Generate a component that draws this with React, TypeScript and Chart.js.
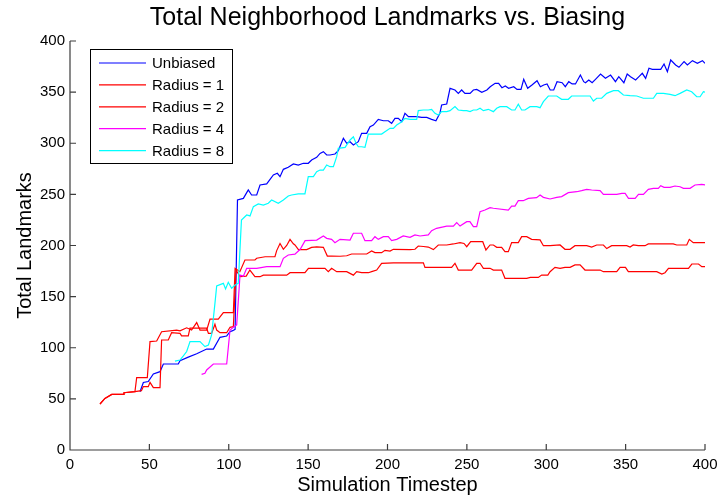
import React, { useEffect, useRef } from "react";
import { Chart, registerables } from "chart.js";

Chart.register(...registerables);

const FONT = '"Liberation Sans", Arial, Helvetica, sans-serif';

const chartTitle = "Total Neighborhood Landmarks vs. Biasing";
const xAxisTitle = "Simulation Timestep";
const yAxisTitle = "Total Landmarks";
const xTickValues = [0, 50, 100, 150, 200, 250, 300, 350, 400];
const yTickValues = [0, 50, 100, 150, 200, 250, 300, 350, 400];
const seriesLabels = ["Unbiased", "Radius = 1", "Radius = 2", "Radius = 4", "Radius = 8"];
const seriesColors = ["#0000ff", "#ff0000", "#ff0000", "#ff00ff", "#00ffff"];

const unbiased: [number, number][] = [
  [44.1, 57], [46.2, 66], [49.3, 67], [52.5, 74.3], [56.7, 76.6], [58.8, 84.1], [68.2, 84.1], [69.3, 87.3],
  [74.5, 90.8], [79.8, 94.1], [86.1, 98.7], [90.3, 98.7], [94.5, 110.2], [98.7, 111.5], [100.8, 115.7],
  [102.5, 116.7], [104, 118], [105.5, 244.5], [109.2, 246.1], [112.3, 254.3], [114.4, 249.4], [117.6, 249.4],
  [119.7, 259.2], [123.9, 260.2], [128.1, 269], [130.6, 270.6], [132.3, 267.3], [134.4, 274.5], [137.5, 276.5],
  [140.7, 279.8], [143.8, 278.7], [147, 280.4], [150.1, 280.4], [152.2, 283.6], [155.4, 286.2], [157.5, 290.1],
  [159.6, 291.8], [161.7, 288.5], [163.8, 288.5], [166.9, 289.5], [169, 292.8], [172.2, 304.8], [174.3, 299.9],
  [176.4, 301.5], [178.5, 298.3], [181.6, 301.5], [183.7, 309.7], [186.9, 309.7], [189, 316.2], [191.1, 317.8],
  [194.2, 323.4], [197.4, 322], [200.5, 322], [202.6, 319.5], [204.7, 324.4], [206.8, 324.4], [209, 321],
  [211, 329.2], [213.2, 326], [218.4, 326], [221.5, 325.3], [224.7, 325.3], [227.8, 323.4], [230.5, 322],
  [233, 329.2], [234.1, 337.4], [237.3, 338.4], [239.4, 353.7], [242.5, 352.1], [244.6, 348.8], [246.7, 352.1],
  [248.8, 348.8], [252, 348.8], [254.1, 352.1], [256.2, 352.7], [259.4, 349.8], [262.6, 352.1], [264.7, 355.3],
  [267.8, 358.6], [270, 358.6], [272.1, 354.3], [274.2, 356], [276.3, 353.7], [279.5, 355.3], [281.6, 352.7],
  [284.1, 352.7], [285.8, 362.5], [288.3, 353.7], [291, 357], [294.2, 361.2], [296.3, 355.3], [298.4, 357],
  [300.5, 358], [302.5, 352.1], [304.7, 352.1], [306.8, 360.2], [310, 359.2], [312, 355.3], [314.2, 360.2],
  [316.3, 358], [318.4, 358], [321.5, 366.7], [323.6, 360.2], [324.7, 359.2], [326.8, 361.9], [328.9, 359.2],
  [331, 362.5], [334.2, 367.7], [337.3, 363.5], [340.5, 366.7], [343.6, 360.2], [345.7, 365.1], [348.9, 359.2],
  [351, 367.7], [353.1, 365.1], [356.3, 361.9], [358.4, 365.1], [360.5, 368.4], [362.6, 363.5], [364.7, 373.3],
  [366.8, 372.3], [369, 372.3], [372.1, 372.3], [374.2, 377.5], [376.3, 370], [378.4, 381.4], [381.5, 376.5],
  [383.6, 374.3], [386.8, 379.8], [388.9, 376.5], [392.1, 380.8], [395.2, 378.2], [398.4, 380.8], [400, 378.2],
];

const radius1: [number, number][] = [
  [18.9, 45], [22, 50.5], [26.3, 54.4], [33.6, 54.4], [34, 56], [40.9, 57], [42, 70.7], [48.7, 70.7],
  [50.4, 106], [54.6, 106.6], [57.7, 115.7], [67.2, 117.3], [69.3, 116.5], [73.5, 119.5], [76.6, 117.3],
  [79.8, 124.6], [81.9, 117.3], [86.1, 117.3], [88.2, 128], [93.4, 128], [96.6, 134.3], [102.9, 134.3],
  [104, 177.7], [107, 174.4], [110.2, 185.8], [116.5, 185.8], [117.6, 187.5], [122.9, 189], [129.1, 189],
  [130.2, 195], [132.3, 202], [134.4, 196.3], [136.5, 200], [138.6, 206], [140.7, 201.7], [141.7, 200.5],
  [143.9, 196], [149.1, 196], [152.2, 198.2], [155.4, 198.7], [159.6, 198.2], [162.1, 189.7], [164.8, 189.7],
  [170.1, 189.5], [174.3, 190], [177.4, 191.7], [186.9, 191.7], [190, 194.6], [192.1, 193], [196.3, 193],
  [198.4, 195.3], [201.6, 194.5], [203.7, 196.3], [214.2, 196], [217.3, 196.3], [219.4, 199.5], [222.6, 199],
  [225.7, 198.5], [228.9, 196], [232, 200.5], [237.3, 200.5], [241.5, 201.5], [245.7, 202.8], [248.2, 202],
  [249.9, 198.8], [252.4, 203.7], [260, 203.7], [262, 195.6], [264.6, 200.5], [266.7, 200.5], [268.8, 198.2],
  [271.9, 198.2], [274, 194], [276.1, 194], [278.2, 202.8], [282.4, 202.8], [284.5, 208.6], [287.7, 208.6],
  [290.8, 206], [296.1, 205.5], [298.2, 199.8], [302.4, 199.8], [308.7, 200.5], [311.8, 196.3], [315, 196.3],
  [318.1, 199.8], [325.5, 199.8], [328.6, 198.5], [331.8, 200.5], [336, 200.5], [338.1, 197], [341.2, 199.8],
  [350.7, 199.8], [352.8, 198.5], [354.8, 200.5], [358, 199.8], [362.2, 199.8], [364.3, 201.5], [380, 201.5],
  [382.2, 200.5], [388.5, 200.5], [390.1, 206], [392.6, 202.8], [400, 202.8],
];

const radius2: [number, number][] = [
  [18.9, 45], [22, 50.5], [26.3, 54.4], [33.6, 54.4], [34, 56], [40.9, 57], [45, 58], [46.2, 62], [49.3, 62],
  [50.4, 66.2], [52.5, 61], [56.7, 61], [57.7, 107.6], [61.9, 107.6], [64, 114.7], [69.3, 114.1], [70.3, 111.6],
  [74.5, 111.6], [75.6, 119.1], [86.1, 119.1], [87.2, 114.1], [89.2, 114.1], [91.3, 123], [92.4, 117.3],
  [94.5, 114.7], [98.7, 114.7], [100.8, 120], [102.9, 120.7], [104.6, 176], [107.1, 169.5], [111, 170],
  [113.3, 176], [116.5, 169.5], [119.7, 169.5], [121.8, 171], [136.5, 171], [138.6, 173.4], [148, 173.4],
  [150.2, 177.7], [160.6, 177.7], [162.7, 174.4], [164.8, 177.7], [168, 174.4], [174.3, 174.4], [178.5, 171],
  [180.6, 174.4], [183.7, 173.4], [188, 173.4], [190, 174.4], [193.2, 176], [196.3, 182.6], [203.7, 183],
  [222.6, 183], [223.6, 178.6], [240.4, 178.6], [242.5, 182.6], [244.6, 176], [253, 176], [256.2, 182.6],
  [258.3, 182.6], [260.4, 177.7], [264.6, 177.7], [266.7, 176], [271.9, 176], [274, 167.9], [287.7, 167.9],
  [290, 168.8], [295, 168.8], [297.1, 171.1], [301, 171.1], [302.4, 174.4], [305.5, 178.6], [308.7, 177.7],
  [311.8, 178.6], [315, 178.6], [318.1, 181], [321.3, 181], [324.4, 176], [333.9, 176], [336, 174.4],
  [344.4, 174.4], [346.5, 178.6], [349.9, 178.6], [351.7, 174.4], [369.6, 174.4], [372.8, 172.1],
  [374.8, 173.4], [377, 177.7], [389.6, 177.7], [391.7, 181.9], [395.9, 181.9], [398, 179.3], [400, 179.3],
];

const radius4: [number, number][] = [
  [82.9, 74], [85, 75], [86.1, 78.3], [90.3, 84.1], [98.7, 84.1], [100.8, 117.3], [102.9, 120], [105, 122.3],
  [107.1, 171.1], [109.2, 170], [111.3, 177.7], [117.6, 177.7], [123.9, 179.3], [132.3, 179.3], [134.4, 187.5],
  [137.5, 190.7], [141.7, 191.5], [145, 196.3], [148.1, 204.7], [152.2, 205], [155.4, 205.3], [159.6, 209.3],
  [161.7, 207], [164.8, 206], [166.9, 202.8], [170.1, 206], [176.4, 205.3], [178.5, 212], [183.7, 212],
  [185.8, 204.7], [190, 204.7], [192.1, 208.6], [194.2, 206], [197.4, 208.6], [200.5, 208.6], [202.6, 204.7],
  [205.8, 206], [209.9, 209.3], [214.2, 208], [217.3, 210.3], [220.5, 209.3], [225.7, 210.3], [227.8, 214.5],
  [230.9, 216.8], [237.3, 219], [241.5, 219], [243.6, 222.3], [245.7, 219], [249.9, 223.3], [251.9, 223.3],
  [254.1, 218.4], [256.2, 218.4], [258.3, 233.1], [261.4, 234.7], [264.6, 237], [266.7, 236.4], [276.1, 234.7],
  [278.2, 238.6], [280.3, 238.6], [282.4, 243.8], [285.5, 243.8], [288.7, 246.1], [293.9, 246.8], [296.1, 249.4],
  [298.2, 247.1], [302.4, 245.5], [306.6, 247.1], [309.7, 247.8], [313.9, 251.7], [319.2, 252.6], [322.3, 253.6],
  [325.5, 254.9], [328.6, 254.3], [333.9, 253.6], [336, 250], [344.4, 250], [347.6, 251], [349.7, 251],
  [351.8, 246.1], [356, 246.1], [358.1, 250], [361.2, 250], [364.3, 254.9], [367.5, 255.9], [370.6, 255.9],
  [372.1, 258.5], [374.2, 256.9], [378, 256.9], [381.1, 258.2], [384.3, 257.5], [386.4, 255.9], [390.6, 255.9],
  [393.7, 259.2], [397.9, 259.8], [400, 259.2],
];

const radius8: [number, number][] = [
  [66.1, 87], [69.3, 88], [71.4, 92], [73.5, 96.3], [75.6, 106], [81.9, 106], [85, 101.1], [87.2, 102.7],
  [89.2, 112.5], [91.3, 143.4], [92.4, 160.4], [96.6, 163], [98, 157.5], [99.7, 164], [101.8, 158.2],
  [104, 161.4], [106, 163], [108, 225], [111.3, 229.8], [113.4, 228.9], [115.5, 238], [118.6, 240.6],
  [121.8, 239.6], [124.9, 241.3], [127, 244.5], [131.2, 241.3], [134.4, 244.5], [137.5, 248.4], [139.6, 249.4],
  [143.8, 250.4], [148, 250.4], [150.1, 267.3], [153.3, 267.3], [155.4, 272.2], [157.5, 273.8], [159.6, 273.8],
  [161.7, 278.7], [163.8, 277.1], [165.9, 277.1], [168, 286.9], [169, 295], [173.3, 296], [176.4, 303.2],
  [178.5, 306.4], [180.2, 300], [181.6, 296.6], [183.7, 296.6], [185.8, 296], [187.9, 309], [196.3, 309],
  [198.4, 311.3], [201.6, 314.6], [203.7, 314.6], [205.8, 317.8], [209, 321], [211, 324.4], [214.2, 323.4],
  [218.4, 323.4], [219.4, 331.9], [222.6, 332.5], [225.7, 332.5], [227.8, 333.2], [229.9, 329.2], [232, 327.6],
  [234.1, 330.9], [237.3, 330.9], [239.4, 331.9], [242.5, 335.8], [244.6, 332.5], [247.8, 331.9], [249.9, 331.9],
  [252, 330.9], [254.1, 332.5], [256.2, 332.5], [258.3, 334.2], [260.4, 331.9], [263.5, 333.2], [266.7, 330.9],
  [268.8, 334.2], [270.9, 335.8], [275.1, 335.8], [278.2, 332.5], [280.3, 332.5], [282.4, 338.1], [284.5, 332.5],
  [286.6, 332.5], [289.8, 335.8], [294, 335.8], [296.1, 334.8], [298.2, 340.7], [301.3, 346.2], [306.6, 346.2],
  [309.7, 343], [313.9, 343], [316, 346.2], [327.6, 346.2], [329.7, 341.3], [331.8, 344], [334.9, 344],
  [338.1, 348.8], [342.3, 351.4], [345.4, 351.4], [348.6, 347.2], [352.8, 346.5], [357, 346.2], [361.2, 344],
  [367.5, 344], [369.6, 348.8], [373.8, 348.8], [378, 347.8], [381.1, 346.5], [384.3, 348.8], [388.5, 352.1],
  [391.6, 350.4], [394.8, 345.5], [396.9, 345.5], [399, 350.4], [400, 350],
];

const allSeries = [unbiased, radius1, radius2, radius4, radius8];

const overlayPlugin = {
  id: "matlabOverlay",
  afterDraw(chart: any) {
    const { ctx, chartArea: a, scales } = chart;
    const xs = scales.x;
    const ys = scales.y;
    ctx.save();
    // axes lines and inward ticks
    ctx.strokeStyle = "#3c3c3c";
    ctx.lineWidth = 1.2;
    ctx.beginPath();
    ctx.moveTo(a.left, a.top);
    ctx.lineTo(a.left, a.bottom);
    ctx.lineTo(a.right, a.bottom);
    xTickValues.forEach((v) => {
      const px = xs.getPixelForValue(v);
      ctx.moveTo(px, a.bottom);
      ctx.lineTo(px, a.bottom - 6);
    });
    yTickValues.forEach((v) => {
      const py = ys.getPixelForValue(v);
      ctx.moveTo(a.left, py);
      ctx.lineTo(a.left + 6, py);
    });
    ctx.stroke();

    // title
    ctx.fillStyle = "#000";
    ctx.font = `25px ${FONT}`;
    ctx.textAlign = "center";
    ctx.textBaseline = "middle";
    ctx.fillText(chartTitle, (a.left + a.right) / 2, 18);

    // legend
    const bx = a.left + 20;
    const by = a.top + 8;
    const bw = 142;
    const bh = 114;
    ctx.fillStyle = "#fff";
    ctx.fillRect(bx, by, bw, bh);
    ctx.strokeStyle = "#000";
    ctx.lineWidth = 1;
    ctx.strokeRect(bx + 0.5, by + 0.5, bw, bh);
    ctx.font = `15px ${FONT}`;
    ctx.textAlign = "left";
    chart.data.datasets.forEach((ds: any, i: number) => {
      const ry = by + 14 + i * 21.9;
      ctx.strokeStyle = ds.borderColor;
      ctx.lineWidth = 1.2;
      ctx.beginPath();
      ctx.moveTo(bx + 9, ry);
      ctx.lineTo(bx + 56, ry);
      ctx.stroke();
      ctx.fillStyle = "#000";
      ctx.fillText(ds.label, bx + 62, ry + 1);
    });
    ctx.restore();
  },
};

export default function App() {
  const ref = useRef<HTMLCanvasElement | null>(null);
  useEffect(() => {
    if (!ref.current) return;
    const chart = new Chart(ref.current, {
      type: "line",
      data: {
        datasets: allSeries.map((pts, i) => ({
          label: seriesLabels[i],
          data: pts.map(([x, y]) => ({ x, y })),
          borderColor: seriesColors[i],
          backgroundColor: seriesColors[i],
          borderWidth: 1.2,
          pointRadius: 0,
          fill: false,
          tension: 0,
          order: allSeries.length - 1 - i,
        })),
      },
      options: {
        animation: false,
        responsive: false,
        maintainAspectRatio: false,
        layout: { padding: { top: 41, right: 14, left: 0, bottom: 0 } },
        plugins: {
          legend: { display: false },
          title: { display: false },
          tooltip: { enabled: false },
        },
        scales: {
          x: {
            type: "linear",
            min: 0,
            max: 400,
            afterFit: (s: any) => {
              s.height = 47;
              s.paddingLeft = 0;
              s.paddingRight = 0;
            },
            afterBuildTicks: (s: any) => {
              s.ticks = xTickValues.map((v) => ({ value: v }));
            },
            grid: { display: false, drawTicks: false },
            border: { display: false },
            ticks: {
              color: "#000",
              font: { family: FONT, size: 15 },
              padding: 6,
              maxRotation: 0,
            },
            title: {
              display: true,
              text: xAxisTitle,
              color: "#000",
              font: { family: FONT, size: 20 },
              padding: { top: 0, bottom: 0 },
            },
          },
          y: {
            type: "linear",
            min: 0,
            max: 400,
            afterFit: (s: any) => {
              s.width = 70;
              s.paddingTop = 0;
              s.paddingBottom = 0;
            },
            afterBuildTicks: (s: any) => {
              s.ticks = yTickValues.map((v) => ({ value: v }));
            },
            grid: { display: false, drawTicks: false },
            border: { display: false },
            ticks: {
              color: "#000",
              font: { family: FONT, size: 15 },
              padding: 5,
            },
            title: {
              display: true,
              text: yAxisTitle,
              color: "#000",
              font: { family: FONT, size: 20 },
              padding: { top: 13, bottom: 0 },
            },
          },
        },
      },
      plugins: [overlayPlugin],
    });
    return () => chart.destroy();
  }, []);
  return (
    <div style={{ position: "fixed", left: 0, top: 0, width: 719, height: 497, background: "#fff" }}>
      <canvas ref={ref} width={719} height={497} style={{ width: 719, height: 497, display: "block" }} />
    </div>
  );
}
